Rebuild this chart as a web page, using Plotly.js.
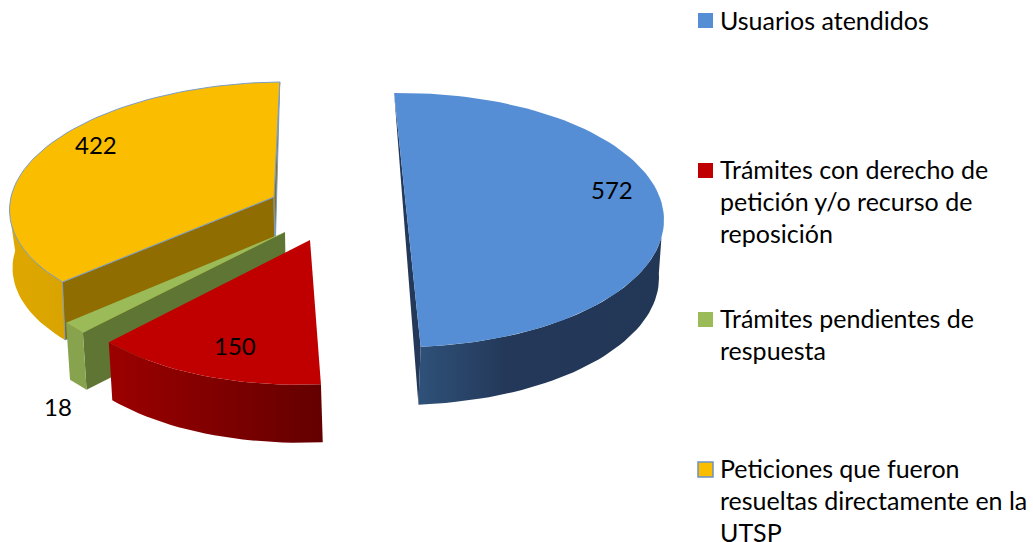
<!DOCTYPE html>
<html>
<head>
<meta charset="utf-8">
<script src="https://cdn.plot.ly/plotly-3.0.1.min.js"></script>
<style>html,body{margin:0;padding:0;background:#fff;overflow:hidden}</style>
</head>
<body>
<div id="chart" style="width:1033px;height:542px"></div>
<script>
// Data
const categories = ['Usuarios atendidos', 'Trámites con derecho de petición y/o recurso de reposición', 'Trámites pendientes de respuesta', 'Peticiones que fueron resueltas directamente en la UTSP'];
const values = [572, 150, 18, 422];
const legendLines = [['Usuarios atendidos'], ['Trámites con derecho de', 'petición y/o recurso de', 'reposición'], ['Trámites pendientes de', 'respuesta'], ['Peticiones que fueron', 'resueltas directamente en la', 'UTSP']];

// Styles
const topColors = ['#558ed5', '#c00000', '#9bbb59', '#fbbd00'];
const FONT = 'Lato, "Open Sans", sans-serif';
const TEXTSIZE = 25;

// Projection of each exploded slice (pull + perspective), screen-space
const startAngle = -1.5;
const geom = [
  {top: {ax: 401, ay: 220, R: 263, Q: 127, p: 0, s: 0}, bot: {ax: 399, ay: 278, R: 260, Q: 127, p: 0, s: 0}},
  {top: {ax: 310, ay: 240, R: 254, Q: 122, p: .157, s: 9.8}, bot: {ax: 312, ay: 298, R: 252, Q: 122, p: .157, s: 9.8}},
  {top: {ax: 285, ay: 232, R: 261.6, Q: 125, p: .11, s: 13.4}, bot: {ax: 286, ay: 289, R: 258, Q: 125, p: .11, s: 13.4}},
  {top: {ax: 274, ay: 197, R: 263, Q: 121.6, p: .057, s: 13}, bot: {ax: 275, ay: 255, R: 261, Q: 121.6, p: .057, s: 13}}
];

const total = values.reduce((a, b) => a + b, 0);
let cum = startAngle;
const spans = values.map(v => { const a = cum, b = cum + v / total * 360; cum = b; return [a, b]; });

function pt(g, deg) {
  const t = deg * Math.PI / 180, u = Math.sin(t), v = Math.cos(t), w = 1 + g.p * v;
  return [g.ax + (g.R * u + g.s * v) / w, g.ay - g.Q * v / w];
}
function arc(g, a, b) {
  const out = [], n = Math.max(4, Math.ceil(Math.abs(b - a) / 2));
  for (let i = 0; i <= n; i++) out.push(pt(g, a + (b - a) * i / n));
  return out;
}
function poly(points, fill, extra) {
  const pts = points.concat([points[0]]);
  const tr = {
    x: pts.map(p => p[0]), y: pts.map(p => p[1]),
    mode: 'lines', fill: 'toself', fillcolor: fill,
    line: {width: 0, color: fill}, hoverinfo: 'skip', showlegend: false
  };
  return Object.assign(tr, extra || {});
}
function grad(c0, c1, x0, x1) {
  return {fillgradient: {type: 'horizontal', colorscale: [[0, c0], [1, c1]], start: x0, stop: x1}};
}
const edge = {line: {width: 1, color: '#7b9cc4'}};
const traces = [];

// Yellow slice
(function () {
  const i = 3, g = geom[i], [a, b] = spans[i];
  traces.push(poly(arc(g.top, a, 258).concat(arc(g.bot, 272, a)), '#e0a900', grad('#dfa800', '#d9a400', 10, 62)));
  traces.push(poly([pt(g.top, a), [g.top.ax, g.top.ay], [g.bot.ax, g.bot.ay], pt(g.bot, a)], '#8f6d00', edge));
  traces.push(poly([pt(g.top, b), [g.top.ax, g.top.ay], [g.bot.ax, g.bot.ay]], '#8f6d00', edge));
  traces.push(poly(arc(g.top, a, b).concat([[g.top.ax, g.top.ay]]), topColors[i], edge));
})();

// Green slice
(function () {
  const i = 2, g = geom[i], [a, b] = spans[i];
  traces.push(poly([pt(g.top, a), [g.top.ax, g.top.ay], [g.bot.ax, g.bot.ay], pt(g.bot, a)], '#5f7533'));
  traces.push(poly(arc(g.top, a, b).concat(arc(g.bot, b, a)), '#87a34e'));
  traces.push(poly(arc(g.top, a, b).concat([[g.top.ax, g.top.ay]]), topColors[i]));
})();

// Red slice
(function () {
  const i = 1, g = geom[i], [a, b] = spans[i];
  traces.push(poly(arc(g.top, a, b).concat(arc(g.bot, b, a)), '#800000', grad('#9c0000', '#640000', 109, 322)));
  traces.push(poly(arc(g.top, a, b).concat([[g.top.ax, g.top.ay]]), topColors[i]));
})();

// Blue slice: nearly half the pie, so its two radii read as one straight edge
(function () {
  const i = 0, g = geom[i], [a, b] = spans[i];
  traces.push(poly([pt(g.top, a), pt(g.top, b), pt(g.bot, b)], '#24395a'));
  traces.push(poly(arc(g.top, 98, b).concat(arc(g.bot, b, 88)), '#24395a', {
    fillgradient: {type: 'horizontal', colorscale: [[0, '#2f5179'], [0.35, '#24395a'], [1, '#223656']], start: 418, stop: 664}
  }));
  traces.push(poly(arc(g.top, a, b), topColors[i]));
})();

// Legend markers
const markerPos = [[705.5, 20.5], [705.5, 170.5], [705.5, 319.5], [705.5, 469.5]];
traces.push({
  x: markerPos.map(p => p[0]), y: markerPos.map(p => p[1]), mode: 'markers', hoverinfo: 'skip', showlegend: false,
  marker: {symbol: 'square', size: 15, color: topColors, line: {width: [0, 0, 0, 1.5], color: '#6a93c8'}}
});

// Texts
const annotations = [];
const lineStart = [20, 169, 318, 468], lineStep = 32.2;
legendLines.forEach((lines, k) => lines.forEach((txt, j) => annotations.push({
  x: 718, y: lineStart[k] + j * lineStep, xref: 'x', yref: 'y', text: txt, showarrow: false,
  xanchor: 'left', yanchor: 'middle', font: {family: FONT, size: TEXTSIZE, color: '#000'}
})));
const labelPos = [[612, 189.5], [235, 345], [58, 406], [96, 144]];
values.forEach((v, k) => annotations.push({
  x: labelPos[k][0], y: labelPos[k][1], xref: 'x', yref: 'y', text: String(v), showarrow: false,
  xanchor: 'center', yanchor: 'middle', font: {family: FONT, size: 24, color: '#000'}
}));

Plotly.newPlot('chart', traces, {
  width: 1033, height: 542, margin: {l: 0, r: 0, t: 0, b: 0},
  paper_bgcolor: '#fff', plot_bgcolor: '#fff', showlegend: false,
  xaxis: {range: [0, 1033], visible: false, fixedrange: true},
  yaxis: {range: [542, 0], visible: false, fixedrange: true},
  annotations: annotations
}, {displayModeBar: false, staticPlot: true});
</script>
</body>
</html>
